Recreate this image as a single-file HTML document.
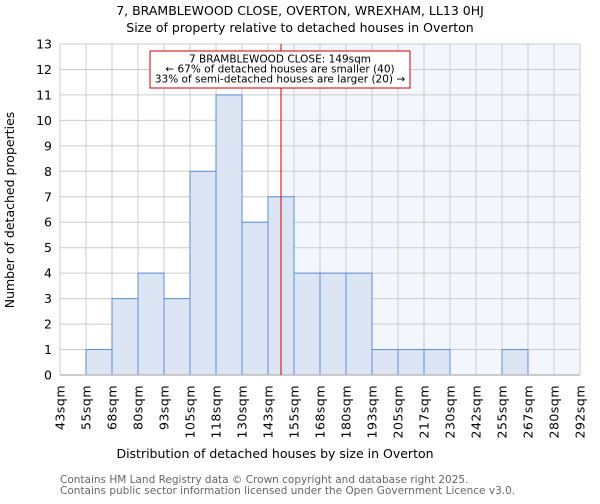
<!DOCTYPE html>
<html><head><meta charset="utf-8"><style>
body{margin:0;background:#fff;font-family:"DejaVu Sans","Liberation Sans",sans-serif;}
</style></head><body>
<svg width="600" height="500" xmlns="http://www.w3.org/2000/svg" font-family="DejaVu Sans, Liberation Sans, sans-serif">
<text x="300" y="15" text-anchor="middle" font-size="12.5">7, BRAMBLEWOOD CLOSE, OVERTON, WREXHAM, LL13 0HJ</text>
<text x="300" y="32" text-anchor="middle" font-size="12.5">Size of property relative to detached houses in Overton</text>
<g id="plot"></g>
<text x="275" y="458" text-anchor="middle" font-size="12.5">Distribution of detached houses by size in Overton</text>
<text transform="translate(14,210) rotate(-90)" text-anchor="middle" font-size="12.5">Number of detached properties</text>
<text x="60" y="483" font-size="10.5" fill="#666">Contains HM Land Registry data © Crown copyright and database right 2025.</text>
<text x="60" y="494" font-size="10.5" fill="#666">Contains public sector information licensed under the Open Government Licence v3.0.</text>
</svg>
<script>
const binLabels=["43sqm","55sqm","68sqm","80sqm","93sqm","105sqm","118sqm","130sqm","143sqm","155sqm","168sqm","180sqm","193sqm","205sqm","217sqm","230sqm","242sqm","255sqm","267sqm","280sqm","292sqm"];
const binEdges=[43,55,68,80,93,105,118,130,143,155,168,180,193,205,217,230,242,255,267,280,292];
const counts=[0,1,3,4,3,8,11,6,7,4,4,4,1,1,1,0,0,1,0,0];
const yTicks=[0,1,2,3,4,5,6,7,8,9,10,11,12,13];
const markerValue=149;
const NS="http://www.w3.org/2000/svg";
const g=document.getElementById('plot');
const X0=60,X1=580,Y0=375,Y1=44,YMAX=13;
const nb=counts.length,bw=(X1-X0)/nb;
function xi(i){return X0+i*bw;}
function xv(v){let i=0;while(i<nb-1&&v>binEdges[i+1])i++;return xi(i)+bw*(v-binEdges[i])/(binEdges[i+1]-binEdges[i]);}
function y(v){return Y0-(Y0-Y1)*v/YMAX;}
function mk(t,a){const e=document.createElementNS(NS,t);for(const k in a)e.setAttribute(k,a[k]);g.appendChild(e);return e;}
const mx=xv(markerValue);
let r=mk('rect',{x:X0,y:Y1,width:X1-X0,height:Y0-Y1,fill:'#fff'});


r=mk('rect',{x:mx,y:Y1,width:X1-mx,height:Y0-Y1,fill:'#f3f6fd'});


yTicks.forEach(t=>{
 const l=mk('line',{x1:X0,x2:X1,y1:y(t),y2:y(t),stroke:'#ccc','stroke-width':1});
 
 
 const tx=mk('text',{x:X0-8,y:y(t)+4.5,'text-anchor':'end','font-size':12.5});
 tx.textContent=t;
 
 
});
binLabels.forEach((s,i)=>{
 const l=mk('line',{x1:xi(i),x2:xi(i),y1:Y1,y2:Y0,stroke:'#ccc','stroke-width':1});
 
 
 const tx=mk('text',{transform:`translate(${xi(i)+4.5},385) rotate(-90)`,'text-anchor':'end','font-size':12.5,'letter-spacing':'0.5'});
 tx.textContent=s;
 
 
});
counts.forEach((c,i)=>{
 if(!c)return;
 const b=mk('rect',{x:xi(i),y:y(c),width:bw,height:Y0-y(c),fill:'#dae4f3','fill-opacity':0.95,stroke:'#5b8fd6','stroke-width':1});
 
 
});
const ax=mk('line',{x1:X0,x2:X1,y1:Y0,y2:Y0,stroke:'#bbb','stroke-width':1.5});


const ml=mk('line',{x1:mx,x2:mx,y1:Y1,y2:Y0,stroke:'#c00','stroke-width':1});


const box=mk('rect',{x:150,y:51,width:260,height:37,fill:'#fff',stroke:'#c00','stroke-width':1});


["7 BRAMBLEWOOD CLOSE: 149sqm","← 67% of detached houses are smaller (40)","33% of semi-detached houses are larger (20) →"].forEach((s,i)=>{
 const t=mk('text',{x:280,y:62.5+i*10,'text-anchor':'middle','font-size':10.5});
 t.textContent=s;
 
 
});
</script>
</body></html>
